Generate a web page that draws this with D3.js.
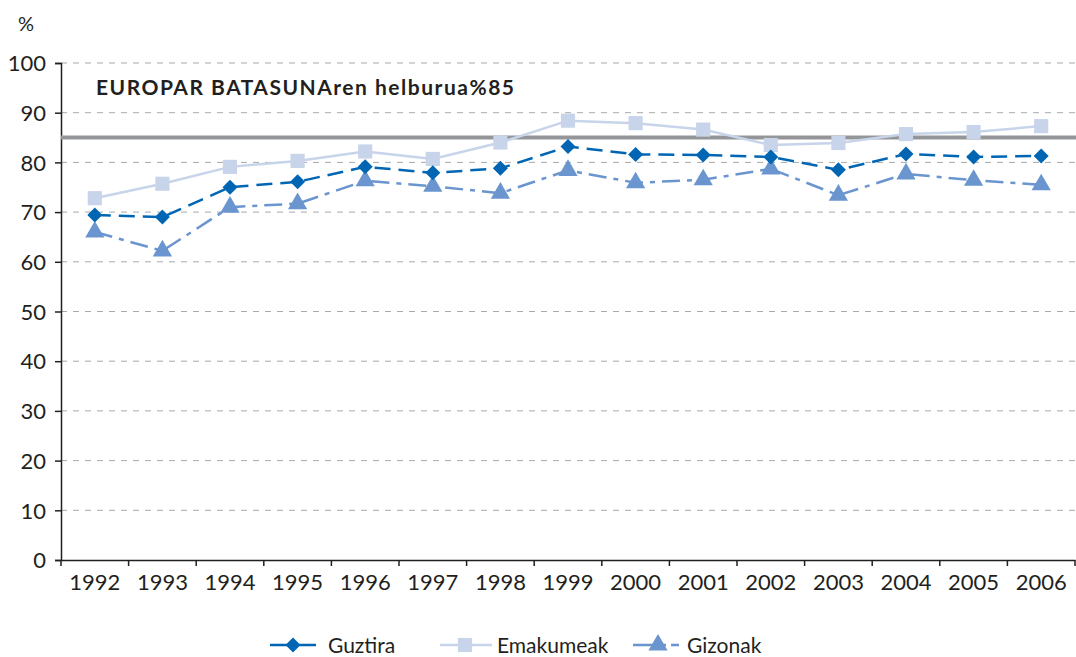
<!DOCTYPE html>
<html><head><meta charset="utf-8">
<script src="https://cdn.jsdelivr.net/npm/d3@7"></script>
<style>body{margin:0;background:#fff}svg{display:block}text{font-family:Lato,"Open Sans",sans-serif;fill:#231f20}</style>
</head><body><svg id="c" width="1076" height="657"></svg>
<script>
const years = ["1992","1993","1994","1995","1996","1997","1998","1999","2000","2001","2002","2003","2004","2005","2006"];
const guztira = [69.4,69.0,75.0,76.1,79.1,77.9,78.8,83.2,81.6,81.5,81.1,78.5,81.7,81.1,81.3];
const emakumeak = [72.8,75.7,79.1,80.3,82.2,80.7,84.0,88.4,87.9,86.6,83.5,83.9,85.7,86.1,87.3];
const gizonak = [66.0,62.2,71.0,71.7,76.3,75.2,73.8,78.4,75.9,76.5,78.7,73.4,77.7,76.4,75.5];
const yTicks = [0,10,20,30,40,50,60,70,80,90,100];
const target = 85;
const targetLabel = "EUROPAR BATASUNAren helburua%85";
const seriesNames = ["Guztira","Emakumeak","Gizonak"];

const svg = d3.select("#c");
const L = 61, R = 1075, T = 63, B = 560;
const x = d3.scaleBand().domain(years).range([L, R]);
const y = d3.scaleLinear().domain([0,100]).range([B, T]);

// grid
svg.append("g").selectAll("line").data(yTicks.filter(d=>d>0)).join("line")
  .attr("x1", L).attr("x2", R).attr("y1", d=>y(d)).attr("y2", d=>y(d))
  .attr("stroke", "#a7a9ac").attr("stroke-width", 1).attr("stroke-dasharray", "6,6");

// y axis
const ya = svg.append("g").attr("transform", `translate(${L},0)`)
  .call(d3.axisLeft(y).tickValues(yTicks).tickSize(6).tickPadding(8));
ya.select(".domain").attr("stroke", "#231f20").attr("stroke-width", 1.5);
ya.selectAll(".tick line").attr("stroke", "#231f20").attr("stroke-width", 1.5);
ya.selectAll("text").style("font-size", "22px").attr("fill", "#231f20").attr("dy", "0.35em").attr("x", -15);

// x axis
const xa = svg.append("g").attr("transform", `translate(0,${B})`)
  .call(d3.axisBottom(x).tickSize(0).tickPadding(14));
xa.select(".domain").attr("stroke", "#231f20").attr("stroke-width", 1.5);
xa.selectAll("text").style("font-size", "22px").attr("fill", "#231f20");
const bounds = years.map(d=>x(d)).concat([R]);
svg.append("g").selectAll("line").data(bounds).join("line")
  .attr("x1", d=>d).attr("x2", d=>d).attr("y1", B).attr("y2", B+6)
  .attr("stroke", "#231f20").attr("stroke-width", 1.5);

svg.append("text").attr("x", 18).attr("y", 31).style("font-size", "20px").text("%");

// target line
svg.append("line").attr("x1", L).attr("x2", R+1).attr("y1", y(target)).attr("y2", y(target))
  .attr("stroke", "#939598").attr("stroke-width", 4);
svg.append("text").attr("x", 96).attr("y", 95).style("font-size", "21px").style("font-weight", "bold")
  .attr("textLength", 418).attr("lengthAdjust", "spacing").text(targetLabel);

const cx = d => x(d) + x.bandwidth()/2;
const line = d3.line().x((v,i)=>cx(years[i])).y(v=>y(v));

const styles = [
  {data: guztira, color: "#0066b3", dash: "16,8", sym: d3.symbolDiamond, size: 110, w: 2.5},
  {data: emakumeak, color: "#c7d4ea", dash: null, sym: d3.symbolSquare, size: 200, w: 2.5},
  {data: gizonak, color: "#6a95cf", dash: "18,7,5,7", sym: d3.symbolTriangle, size: 160, w: 2.5}
];
const diamond = {draw(ctx, s){const r=Math.sqrt(s)*0.75; ctx.moveTo(0,-r);ctx.lineTo(r,0);ctx.lineTo(0,r);ctx.lineTo(-r,0);ctx.closePath();}};
styles[0].sym = diamond; styles[0].size = 100;

// draw order: emakumeak, gizonak, guztira
[1,2,0].forEach(k=>{
  const s = styles[k];
  svg.append("path").attr("d", line(s.data)).attr("fill","none").attr("stroke", s.color)
    .attr("stroke-width", s.w).attr("stroke-dasharray", s.dash);
  svg.append("g").selectAll("path").data(s.data).join("path")
    .attr("transform", (v,i)=>`translate(${cx(years[i])},${y(v)})`)
    .attr("d", d3.symbol().type(s.sym).size(s.size)).attr("fill", s.color);
});

// legend
const leg = [
  {x1:270, x2:316, m:293, tx:328},
  {x1:440, x2:492, m:465, tx:497},
  {x1:633, x2:684, m:658, tx:687}
];
const ly = 645;
leg.forEach((p,k)=>{
  const s = styles[k];
  svg.append("line").attr("x1",p.x1).attr("x2",p.x2).attr("y1",ly).attr("y2",ly)
    .attr("stroke", s.color).attr("stroke-width", 2.5)
    .attr("stroke-dasharray", k===2 ? "33,5,8,5" : null);
  svg.append("path").attr("transform",`translate(${p.m},${ly})`)
    .attr("d", d3.symbol().type(s.sym).size(s.size)).attr("fill", s.color);
  svg.append("text").attr("x", p.tx).attr("y", ly+8).style("font-size","21px").text(seriesNames[k]);
});
</script></body></html>
